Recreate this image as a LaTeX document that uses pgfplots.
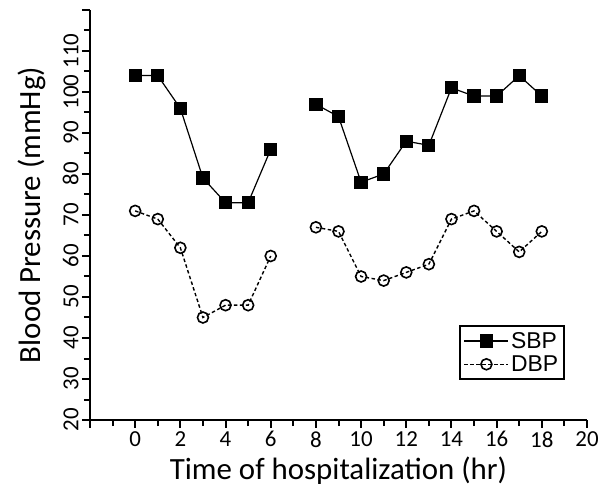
\documentclass[border=0pt]{standalone}
\usepackage{pgfplots}
\pgfplotsset{compat=1.18}
\usepackage{fontspec}
\setmainfont{Carlito}
\newfontfamily\legfont{Liberation Sans}
\begin{document}
\begin{tikzpicture}
\begin{axis}[
  name=ax,
  scale only axis,
  width=497bp, height=410bp,
  xmin=-2, xmax=20, ymin=20, ymax=120,
  axis lines*=left,
  axis line style={line width=2.4bp,-},
  xtick={-2,0,2,...,20},
  xticklabels={,0,2,4,6,8,10,12,14,16,18,20},
  minor xtick={-1,1,3,...,19},
  ytick={20,30,...,120},
  yticklabels={20,30,40,50,60,70,80,90,100,110,},
  minor ytick={25,35,...,115},
  tick align=outside,
  major tick length=8bp, minor tick length=6bp,
  tick style={line width=2bp,black},
  /pgf/number format/assume math mode=true,
  ticklabel style={font=\fontsize{23}{26}\selectfont},
  yticklabel style={rotate=90, anchor=south},
  xlabel={Time of hospitalization (hr)},
  ylabel={Blood Pressure (mmHg)},
  label style={font=\fontsize{31}{34}\selectfont},
  xlabel style={at={(axis description cs:0.5,0)}, anchor=center, yshift=-51bp},
  ylabel style={at={(axis description cs:0,0.5)}, anchor=center, rotate=0, yshift=58bp},
  legend style={at={(0.956,0.098)}, anchor=south east, draw=black, line width=1.8bp,
     font=\legfont\fontsize{23}{26}\selectfont, row sep=2bp, inner sep=4bp},
  legend cell align=left,
  legend image code/.code={\draw[mark repeat=2,mark phase=2,#1] plot coordinates {(0bp,0bp) (22bp,0bp) (44bp,0bp)};},
  clip=false,
]
\addplot[black, line width=1.2bp, mark=square*, mark size=6bp, mark options={solid}] table[x=t,y=v] {
t v
0 104
1 104
2 96
3 79
4 73
5 73
6 86

8 97
9 94
10 78
11 80
12 88
13 87
14 101
15 99
16 99
17 104
18 99
};
\addlegendentry{SBP}
\addplot[black, line width=1.4bp, dash pattern=on 3.5bp off 2.5bp, mark=o, mark size=5.5bp, mark options={solid, fill=white, line width=1.6bp}] table[x=t,y=v] {
t v
0 71
1 69
2 62
3 45
4 48
5 48
6 60

8 67
9 66
10 55
11 54
12 56
13 58
14 69
15 71
16 66
17 61
18 66
};
\addlegendentry{DBP}
\end{axis}
\path ([xshift=-90bp,yshift=-71bp]ax.south west) rectangle ([xshift=22bp,yshift=10bp]ax.north east);
\end{tikzpicture}
\end{document}
